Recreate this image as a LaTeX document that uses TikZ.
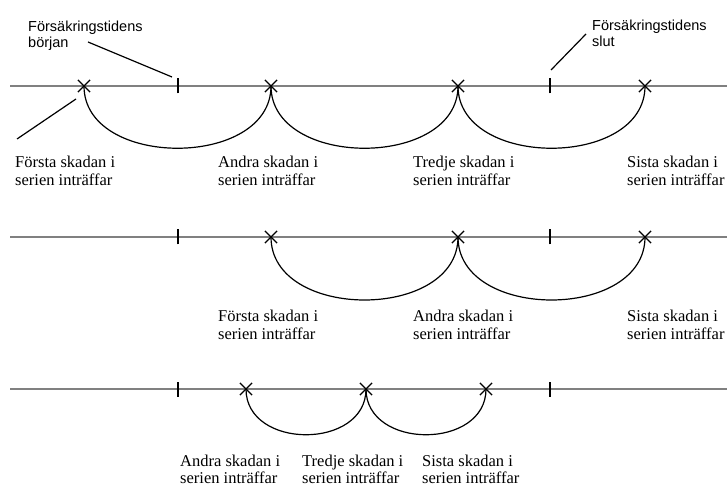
\documentclass[tikz,border=0pt]{standalone}
\usepackage{fontspec}
\setmainfont{Liberation Serif}
\newfontfamily\sansf{Liberation Sans}
\usetikzlibrary{shapes.misc}
\tikzset{
  kryss/.style={cross out,draw,line width=1.2pt,minimum size=11pt,inner sep=0pt},
  tidslinje/.style={draw=gray,line width=2pt},
  streck/.style={line width=1.2pt},
  skada/.style={anchor=base west,align=left,inner sep=0pt,font=\fontsize{16.5}{17.5}\selectfont},
  tid/.style={anchor=base west,align=left,inner sep=0pt,font=\sansf\fontsize{14.5}{16}\selectfont},
}
\begin{document}
\begin{tikzpicture}[x=1pt,y=1pt]
\useasboundingbox (0,0) rectangle (727,487);
\pgfmathsetmacro{\kya}{401}
\pgfmathsetmacro{\kyb}{250}
\pgfmathsetmacro{\kyc}{98}
\foreach \ky in {\kya,\kyb,\kyc}{
  \draw[tidslinje](10,\ky)--(727,\ky);
  \draw[streck](178,\ky-7.5)--++(0,15);
  \draw[streck](550,\ky-7.5)--++(0,15);
}
\foreach \n/\x in {a/84,b/271,c/458,d/645}{\node[kryss](ra\n)at(\x,\kya){};}
\foreach \n/\x in {a/271,b/458,c/645}{\node[kryss](rb\n)at(\x,\kyb){};}
\foreach \n/\x in {a/246,b/366,c/486}{\node[kryss](rc\n)at(\x,\kyc){};}
\foreach \p/\q in {a/b,b/c,c/d}{\draw[streck](ra\p.center)..controls +(0,-83) and +(0,-83)..(ra\q.center);}
\foreach \p/\q in {a/b,b/c}{\draw[streck](rb\p.center)..controls +(0,-84) and +(0,-84)..(rb\q.center);}
\foreach \p/\q in {a/b,b/c}{\draw[streck](rc\p.center)..controls +(0,-61) and +(0,-61)..(rc\q.center);}
\node[tid](borjan)at(28,439){Försäkringstidens\\början};
\node[tid](slut)at(592,440){Försäkringstidens\\slut};
\coordinate(ba)at(88,445);
\coordinate(bb)at(172,410);
\coordinate(sa)at(586,453);
\coordinate(sb)at(551,417);
\coordinate(fa)at(76,388);
\coordinate(fb)at(17,348);
\draw[streck](ba)--(bb);
\draw[streck](sa)--(sb);
\draw[streck](fa)--(fb);
\node[skada](la1)at(15,301.5){Första skadan i\\serien inträffar};
\node[skada](la2)at(218,301.5){Andra skadan i\\serien inträffar};
\node[skada](la3)at(413,301.5){Tredje skadan i\\serien inträffar};
\node[skada](la4)at(627,301.5){Sista skadan i\\serien inträffar};
\node[skada](lb1)at(218,147.5){Första skadan i\\serien inträffar};
\node[skada](lb2)at(413,147.5){Andra skadan i\\serien inträffar};
\node[skada](lb3)at(627,147.5){Sista skadan i\\serien inträffar};
\node[skada](lc1)at(180,3.5){Andra skadan i\\serien inträffar};
\node[skada](lc2)at(302,3.5){Tredje skadan i\\serien inträffar};
\node[skada](lc3)at(422,3.5){Sista skadan i\\serien inträffar};
\end{tikzpicture}
\end{document}
